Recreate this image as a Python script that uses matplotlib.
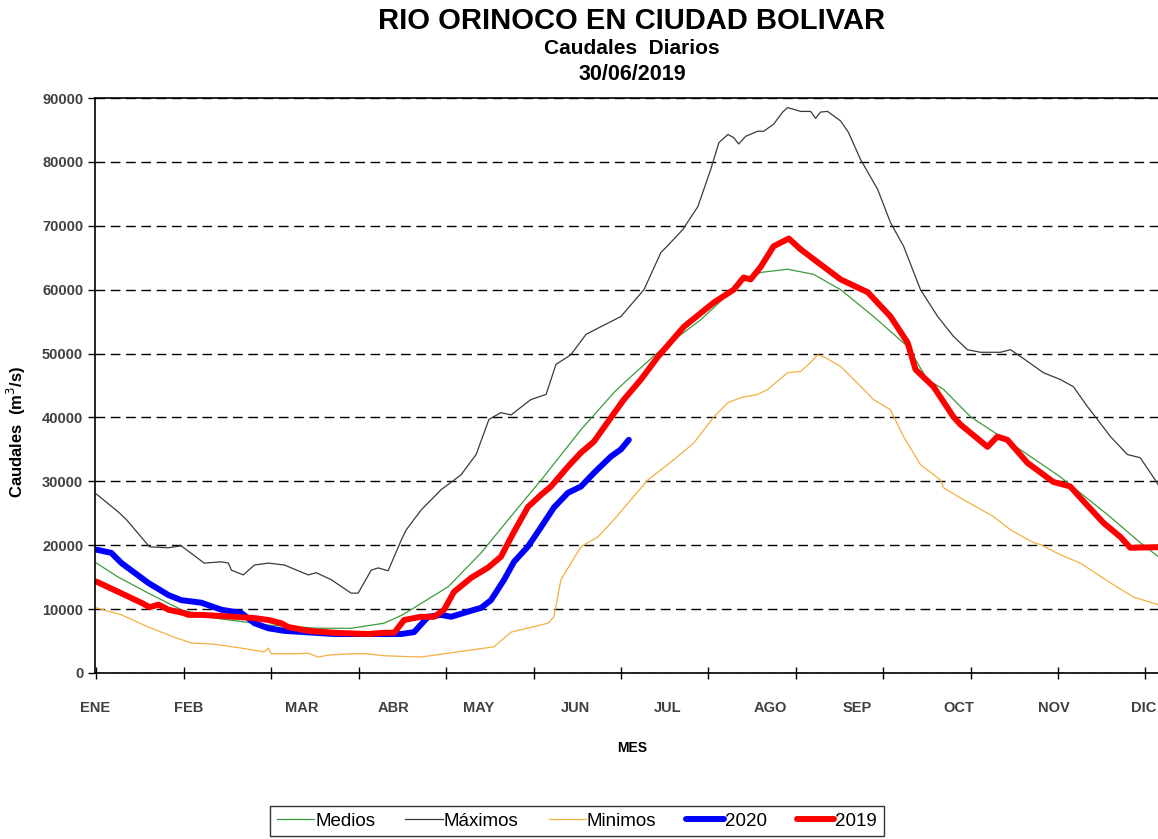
import matplotlib
matplotlib.use("Agg")
import matplotlib.pyplot as plt

plt.rcParams["font.family"] = ["Liberation Sans", "DejaVu Sans"]

# month labels (day-of-year where each label sits) and axis ticks
months = ["ENE", "FEB", "MAR", "ABR", "MAY", "JUN", "JUL", "AGO", "SEP", "OCT", "NOV", "DIC"]
month_pos = [-0.5, 31.5, 70.3, 102, 131, 164.5, 196, 231.4, 261.2, 295.9, 328.5, 359.5]
day_ticks = list(range(0, 366, 30))

# Máximos
max_days = [0, 7.5, 10.3, 18.2, 24.7, 29.1, 37, 42.9, 45.3, 46.3, 50.4, 54.2, 59, 64.5, 72.7,
            75.4, 80.6, 87.4, 89.8, 94.3, 96.7, 100.1, 104.6, 106.3, 111.4, 118.3, 125.1, 130.3,
            134.7, 138.8, 142.3, 149.1, 154.3, 157.7, 162.8, 168, 173.1, 180, 187.9, 193.7, 197.1,
            201.2, 206.4, 210.8, 213.6, 216.7, 218.7, 220.4, 222.8, 226.9, 229, 232.4, 235.5,
            237.2, 241.7, 245.1, 246.8, 248.5, 250.9, 255.4, 258.1, 262.2, 268.1, 272.5, 277,
            282.8, 288.7, 294.1, 298.9, 303.4, 310.2, 313.7, 318.5, 325, 331, 335.3, 340.1, 343.5,
            348, 353.8, 358.2, 363.4, 365]
max_vals = [28000, 25200, 24000, 19750, 19600, 19900, 17200, 17400, 17200, 16100, 15350, 16900,
            17200, 16900, 15350, 15700, 14600, 12500, 12500, 16100, 16450, 16000, 20800, 22400,
            25500, 28700, 31000, 34200, 39700, 40750, 40400, 42800, 43600, 48300, 49800, 53000,
            54200, 55800, 60000, 65800, 67400, 69400, 73000, 78800, 83000, 84300, 83800, 82800,
            84000, 84800, 84800, 85900, 87800, 88500, 87900, 87900, 86800, 87800, 87900, 86400,
            84600, 80400, 75700, 70500, 66800, 60000, 55800, 52700, 50600, 50200, 50200, 50600,
            49100, 47000, 45900, 44800, 41700, 39700, 37000, 34200, 33700, 30200, 29000]

# Medios
med_days = [0, 7.5, 17.8, 29.1, 40.5, 59, 76.1, 87.4, 98.7, 104.6, 109, 120.7, 132, 143.3, 152.6,
            166.3, 177.6, 182, 193.7, 207.4, 221.1, 228, 237.2, 246.1, 255.4, 266.7, 278.4, 285.2,
            290.7, 300, 313.7, 330.8, 348, 358.2, 365]
med_vals = [17200, 15000, 12500, 9900, 8600, 7500, 7000, 7000, 7800, 9000, 10200, 13500, 18800,
            25100, 30200, 38100, 43900, 45800, 50600, 55300, 61100, 62700, 63200, 62400, 60000,
            55800, 51100, 45900, 44400, 40100, 36000, 30700, 24400, 20400, 18000]

# Minimos
min_days = [0, 8.6, 17.8, 26.7, 32.6, 40.5, 49.7, 57.6, 59, 60, 67.9, 72.7, 76.1, 79.5, 87.4,
            93.2, 98.7, 111.4, 120.7, 136.4, 142.3, 155, 157, 159.4, 166.3, 172.1, 177.6, 189.2,
            198.2, 205, 211.9, 216.7, 221.1, 226.9, 230.4, 237.2, 241.7, 245.1, 247.5, 249.6,
            255.4, 263.3, 266.7, 272.5, 277, 282.8, 289.7, 290.7, 296.5, 307.8, 313.7, 321.6, 324,
            330.8, 337.7, 348, 355.8, 365]
min_vals = [10200, 9100, 7200, 5600, 4700, 4500, 3900, 3300, 3900, 3000, 3000, 3100, 2500, 2800,
            3000, 3000, 2700, 2500, 3100, 4100, 6400, 7800, 8800, 14600, 19800, 21300, 24000,
            30200, 33400, 36000, 40100, 42300, 43100, 43600, 44400, 47000, 47200, 48600, 49800,
            49500, 48000, 44400, 42800, 41200, 37000, 32600, 30200, 29000, 27400, 24500, 22400,
            20400, 20100, 18500, 17200, 14100, 11900, 10600]

# 2019
y2019_days = [0, 7.5, 15.4, 18.2, 21.3, 24.7, 29.8, 31.5, 36, 47.3, 54.2, 59, 63.4, 65.8, 72.7,
              81.6, 93.2, 98.7, 102.2, 105.6, 111.4, 115.9, 119.3, 122.7, 128.6, 134.4, 138.8,
              143.3, 148.1, 152.6, 156, 161.8, 166.3, 170.7, 176.6, 181, 186.8, 192.7, 201.6,
              211.9, 218.7, 222.1, 224.5, 228, 232.4, 237.6, 241.7, 247.5, 255.4, 264.7, 272.5,
              278.4, 281.1, 287.3, 294.1, 296.5, 305.8, 309.2, 312.6, 319.5, 328.4, 334.2, 337.7,
              345.6, 351.4, 354.8, 365]
y2019_vals = [14300, 12700, 11000, 10300, 10700, 9900, 9400, 9100, 9100, 8800, 8600, 8300, 7800,
              7200, 6600, 6300, 6100, 6300, 6300, 8300, 8800, 8800, 9900, 12700, 14900, 16500,
              18200, 22100, 26000, 27900, 29200, 32300, 34500, 36200, 40000, 42800, 45900, 49500,
              54200, 58000, 60000, 61900, 61600, 63600, 66800, 68000, 66300, 64300, 61600, 59600,
              55800, 51700, 47500, 44800, 40100, 38900, 35400, 37000, 36500, 32900, 29900, 29200,
              27400, 23500, 21300, 19600, 19700]

# 2020
y2020_days = [0, 5.1, 8.6, 17.8, 24.7, 29.1, 36, 42.9, 49.7, 54.2, 59, 64.5, 81.6, 93.2, 104.6,
              109, 113.8, 118.3, 121.7, 127.5, 132, 135.4, 139.9, 143.3, 148.1, 151.5, 157, 161.8,
              166.3, 170.7, 176.6, 180, 182.7]
y2020_vals = [19300, 18800, 17200, 14100, 12200, 11400, 11000, 9900, 9400, 7800, 7000, 6600, 6100,
              6100, 6100, 6400, 8800, 9100, 8800, 9600, 10200, 11400, 14600, 17400, 19800, 22100,
              25900, 28200, 29200, 31300, 33900, 35000, 36500]

fig = plt.figure(figsize=(11.58, 8.39), dpi=100)
ax = fig.add_axes([95 / 1158, 1 - 673 / 839, 1065 / 1158, 575 / 839])

ax.plot(med_days, med_vals, color="#3c9a3c", lw=0.9, label="Medios")
ax.plot(max_days, max_vals, color="#3a3a3a", lw=0.9, label="Máximos")
ax.plot(min_days, min_vals, color="#f3b040", lw=0.9, label="Minimos")
ax.plot(y2020_days, y2020_vals, color="#0000ff", lw=4.3, solid_capstyle="round",
        solid_joinstyle="round", label="2020")
ax.plot(y2019_days, y2019_vals, color="#ff0000", lw=4.3, solid_capstyle="round",
        solid_joinstyle="round", label="2019")

ax.set_xlim(0, 365)
ax.set_ylim(0, 90000)
ax.set_yticks(range(0, 90001, 10000))
ax.set_yticklabels([str(v) for v in range(0, 90001, 10000)], fontsize=10.5,
                   fontweight="bold", color="#404040")
ax.yaxis.grid(True, color="black", linestyle=(0, (7, 4)), lw=1)
ax.set_axisbelow(True)

ax.xaxis.remove_overlapping_locs = False
ax.set_xticks(day_ticks)
ax.set_xticklabels([])
ax.tick_params(axis="x", which="major", direction="inout", length=9, width=1)
ax.tick_params(axis="y", direction="out", length=5, width=1)
ax.set_xticks(month_pos, minor=True)
ax.set_xticklabels(months, minor=True, fontsize=10.5, fontweight="bold", color="#404040")
ax.tick_params(axis="x", which="minor", length=0, pad=20)

ax.spines["right"].set_visible(False)
for s in ["left", "top", "bottom"]:
    ax.spines[s].set_linewidth(1.2)

ax.set_ylabel("Caudales  (m$^3$/s)", fontsize=12, fontweight="bold")
ax.yaxis.set_label_coords(-0.063, 0.42)
fig.text(632 / 1158, 1 - 748 / 839, "MES", ha="center", va="center",
         fontsize=10, fontweight="bold")

fig.text(632 / 1158, 1 - 21 / 839, "RIO ORINOCO EN CIUDAD BOLIVAR", ha="center",
         va="center", fontsize=21, fontweight="bold")
fig.text(632 / 1158, 1 - 48 / 839, "Caudales  Diarios", ha="center", va="center",
         fontsize=15, fontweight="bold")
fig.text(632 / 1158, 1 - 75 / 839, "30/06/2019", ha="center", va="center",
         fontsize=15.5, fontweight="bold")

leg = fig.legend(loc="center", bbox_to_anchor=(577 / 1158, 1 - 821 / 839), ncol=5,
                 fontsize=13.5, frameon=True, fancybox=False, handlelength=2.0,
                 handletextpad=0.05, columnspacing=1.6, borderpad=0.35)
leg.get_frame().set_edgecolor("black")
leg.get_frame().set_linewidth(1)

fig.savefig("out.png", dpi=100)
